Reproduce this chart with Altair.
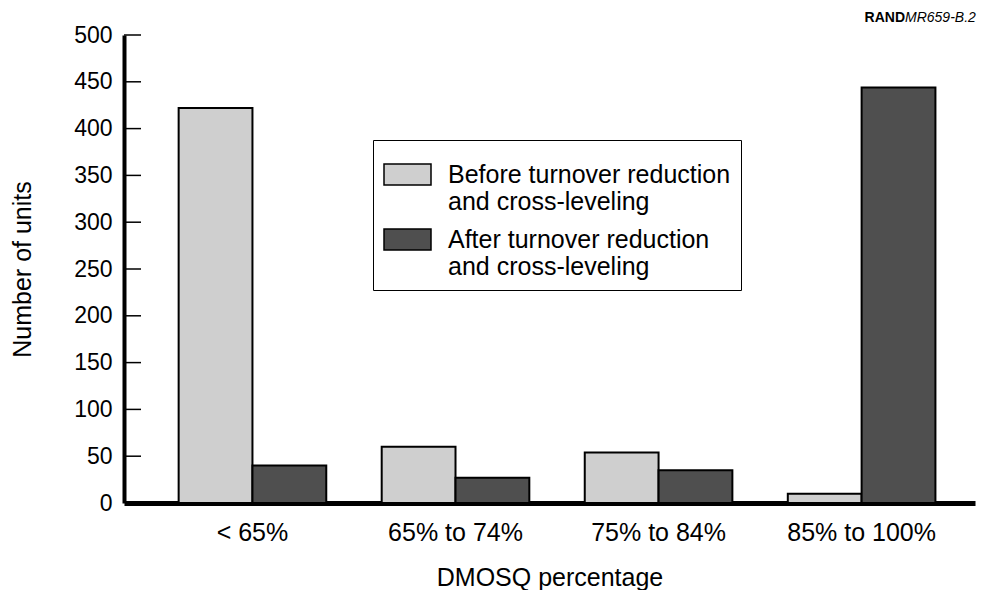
import altair as alt
import pandas as pd

categories = ["< 65%", "65% to 74%", "75% to 84%", "85% to 100%"]
series = ["Before turnover reduction|and cross-leveling", "After turnover reduction|and cross-leveling"]
before = [422, 60, 54, 10]
after = [40, 27, 35, 444]
y_ticks = list(range(0, 501, 50))

rows = []
for c, b, a in zip(categories, before, after):
    rows.append({"cat": c, "series": series[0], "value": b})
    rows.append({"cat": c, "series": series[1], "value": a})
df = pd.DataFrame(rows)
ticks_df = pd.DataFrame({"v": y_ticks[1:]})

FONT = "Liberation Sans"
yscale = alt.Scale(domain=[0, 500], nice=False)

bars = alt.Chart(df).mark_bar(stroke="black", strokeWidth=2, strokeOpacity=1).encode(
    x=alt.X("cat:N", sort=categories,
            scale=alt.Scale(paddingInner=0.273, paddingOuter=0.232, align=0.58),
            axis=alt.Axis(title="DMOSQ percentage", labelAngle=0, ticks=False,
                          domainColor="black", domainWidth=5, labelPadding=17,
                          labelFontSize=25, labelColor="black", titleFontSize=25,
                          titleFontWeight="normal", titleColor="black", titlePadding=20,
                          labelFont=FONT, titleFont=FONT)),
    xOffset=alt.XOffset("series:N", sort=series, scale=alt.Scale(paddingInner=0, paddingOuter=0)),
    y=alt.Y("value:Q", scale=yscale,
            axis=alt.Axis(title="Number of units", values=y_ticks, grid=False, ticks=False,
                          domainColor="black", domainWidth=4, labelPadding=12,
                          labelFontSize=23, labelColor="black", titleFontSize=25,
                          titleFontWeight="normal", titleColor="black", titlePadding=38,
                          labelFont=FONT, titleFont=FONT)),
    color=alt.Color("series:N", sort=series,
                    scale=alt.Scale(domain=series, range=["#cfcfcf", "#4f4f4f"]),
                    legend=alt.Legend(title=None, orient="none", legendX=249, legendY=105,
                                      labelExpr="split(datum.label, '|')",
                                      symbolType="M-1,-0.45H1V0.45H-1Z", symbolSize=2209,
                                      symbolStrokeColor="black", symbolStrokeWidth=1.5,
                                      labelFontSize=25, labelFont=FONT, labelColor="black",
                                      labelLimit=500, rowPadding=0, labelOffset=16,
                                      strokeColor="black", fillColor="white", padding=10,
                                      cornerRadius=0, symbolOpacity=1)),
)

inner_ticks = alt.Chart(ticks_df).mark_rule(color="black", strokeWidth=1.5).encode(
    y=alt.Y("v:Q", scale=yscale), x=alt.value(0), x2=alt.value(17)
)

rand = alt.Chart(pd.DataFrame({"t": ["RAND"]})).mark_text(
    font=FONT, fontSize=14, fontWeight="bold", align="right", baseline="middle", color="black"
).encode(text="t:N", x=alt.value(781), y=alt.value(-17))
mr = alt.Chart(pd.DataFrame({"t": ["MR659-B.2"]})).mark_text(
    font=FONT, fontSize=14, fontStyle="italic", align="left", baseline="middle", color="black"
).encode(text="t:N", x=alt.value(781), y=alt.value(-17))

chart = alt.layer(bars, inner_ticks, rand, mr).properties(
    width=851, height=468, background="white",
    padding={"left": 2, "top": 3, "right": 5, "bottom": 0}
).configure_view(strokeWidth=0, stroke=None)

chart.save("out.html", embed_options={"renderer": "svg", "actions": False})
